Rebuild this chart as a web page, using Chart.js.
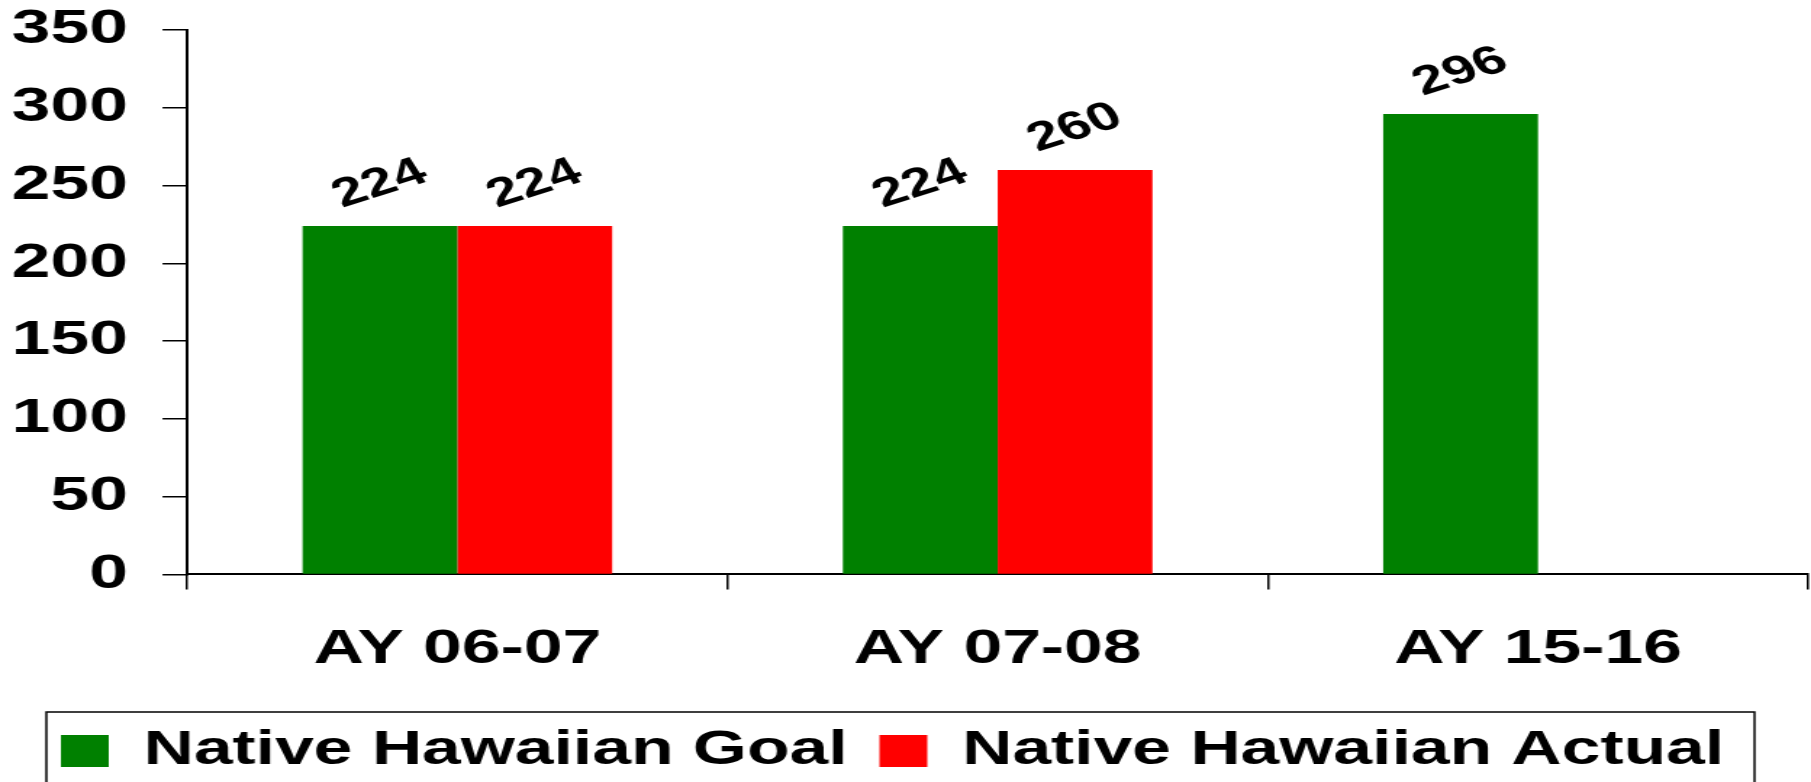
<!DOCTYPE html>
<html>
<head>
    <title>Native Hawaiian Goal vs Actual</title>
    <style>
        body {
            margin: 0;
            background: #fff;
            overflow: hidden;
        }
        /* the reference is stretched sideways, so draw narrow and widen */
        .wrap {
            width: 1249px;
            height: 782px;
            transform: scaleX(1.45);
            transform-origin: 0 0;
        }
    </style>
</head>
<body>
    <div class="wrap"><canvas id="chart" width="1249" height="782"></canvas></div>

    <script src="https://cdn.jsdelivr.net/npm/chart.js"></script>
    <script>
        const categories = ['AY 06-07', 'AY 07-08', 'AY 15-16'];
        const goalValues = [224, 224, 296];
        const actualValues = [224, 260, null];
        const yTicks = [0, 50, 100, 150, 200, 250, 300, 350];

        const FONT = '"Liberation Sans", Arial, sans-serif';

        // rotated value labels above each bar
        const barLabels = {
            id: 'barLabels',
            afterDatasetsDraw(chart) {
                const ctx = chart.ctx;
                ctx.save();
                ctx.font = 'bold 40px ' + FONT;
                ctx.fillStyle = '#000';
                ctx.textAlign = 'center';
                ctx.textBaseline = 'middle';
                chart.data.datasets.forEach((ds, i) => {
                    chart.getDatasetMeta(i).data.forEach((bar, j) => {
                        const v = ds.data[j];
                        if (v == null) return;
                        ctx.save();
                        ctx.translate(bar.x, bar.y - 42);
                        ctx.rotate(-24 * Math.PI / 180);
                        ctx.fillText(String(v), 0, 0);
                        ctx.restore();
                    });
                });
                ctx.restore();
            }
        };

        // frame around the legend
        const legendBox = {
            id: 'legendBox',
            afterDraw(chart) {
                const lg = chart.legend;
                const ctx = chart.ctx;
                ctx.save();
                ctx.strokeStyle = '#000';
                ctx.lineWidth = 1.5;
                ctx.strokeRect(32, lg.top + 7, 1178, 200);
                ctx.restore();
            }
        };

        new Chart(document.getElementById('chart'), {
            type: 'bar',
            data: {
                labels: categories,
                datasets: [{
                    label: 'Native Hawaiian Goal',
                    data: goalValues,
                    backgroundColor: '#008000',
                    borderWidth: 0
                }, {
                    label: 'Native Hawaiian Actual',
                    data: actualValues,
                    backgroundColor: '#ff0000',
                    borderWidth: 0
                }]
            },
            options: {
                responsive: false,
                animation: false,
                categoryPercentage: 0.573,
                barPercentage: 1,
                layout: {
                    padding: { top: 30, left: -16, right: 2, bottom: -3 }
                },
                scales: {
                    x: {
                        grid: {
                            drawOnChartArea: false,
                            color: '#000',
                            lineWidth: 1.5,
                            tickLength: 15,
                            offset: true
                        },
                        border: { color: '#000', width: 2 },
                        ticks: {
                            color: '#000',
                            padding: 32,
                            font: { family: FONT, size: 48, weight: 'bold' }
                        },
                        afterFit(axis) {
                            axis.height -= 6;
                        }
                    },
                    y: {
                        min: yTicks[0],
                        max: yTicks[yTicks.length - 1],
                        afterBuildTicks(axis) {
                            axis.ticks = yTicks.map(v => ({ value: v }));
                        },
                        afterFit(axis) {
                            // the top label may hang over the canvas edge
                            axis.paddingTop = 0;
                        },
                        grid: {
                            drawOnChartArea: false,
                            color: '#000',
                            lineWidth: 1.5,
                            tickLength: 17
                        },
                        border: { color: '#000', width: 2 },
                        ticks: {
                            color: '#000',
                            padding: 24,
                            font: { family: FONT, size: 48, weight: 'bold' }
                        }
                    }
                },
                plugins: {
                    legend: {
                        position: 'bottom',
                        labels: {
                            boxWidth: 33,
                            boxHeight: 32,
                            padding: 22,
                            color: '#000',
                            font: { family: FONT, size: 48, weight: 'bold' }
                        }
                    },
                    tooltip: { enabled: false }
                }
            },
            plugins: [barLabels, legendBox]
        });
    </script>
</body>
</html>
